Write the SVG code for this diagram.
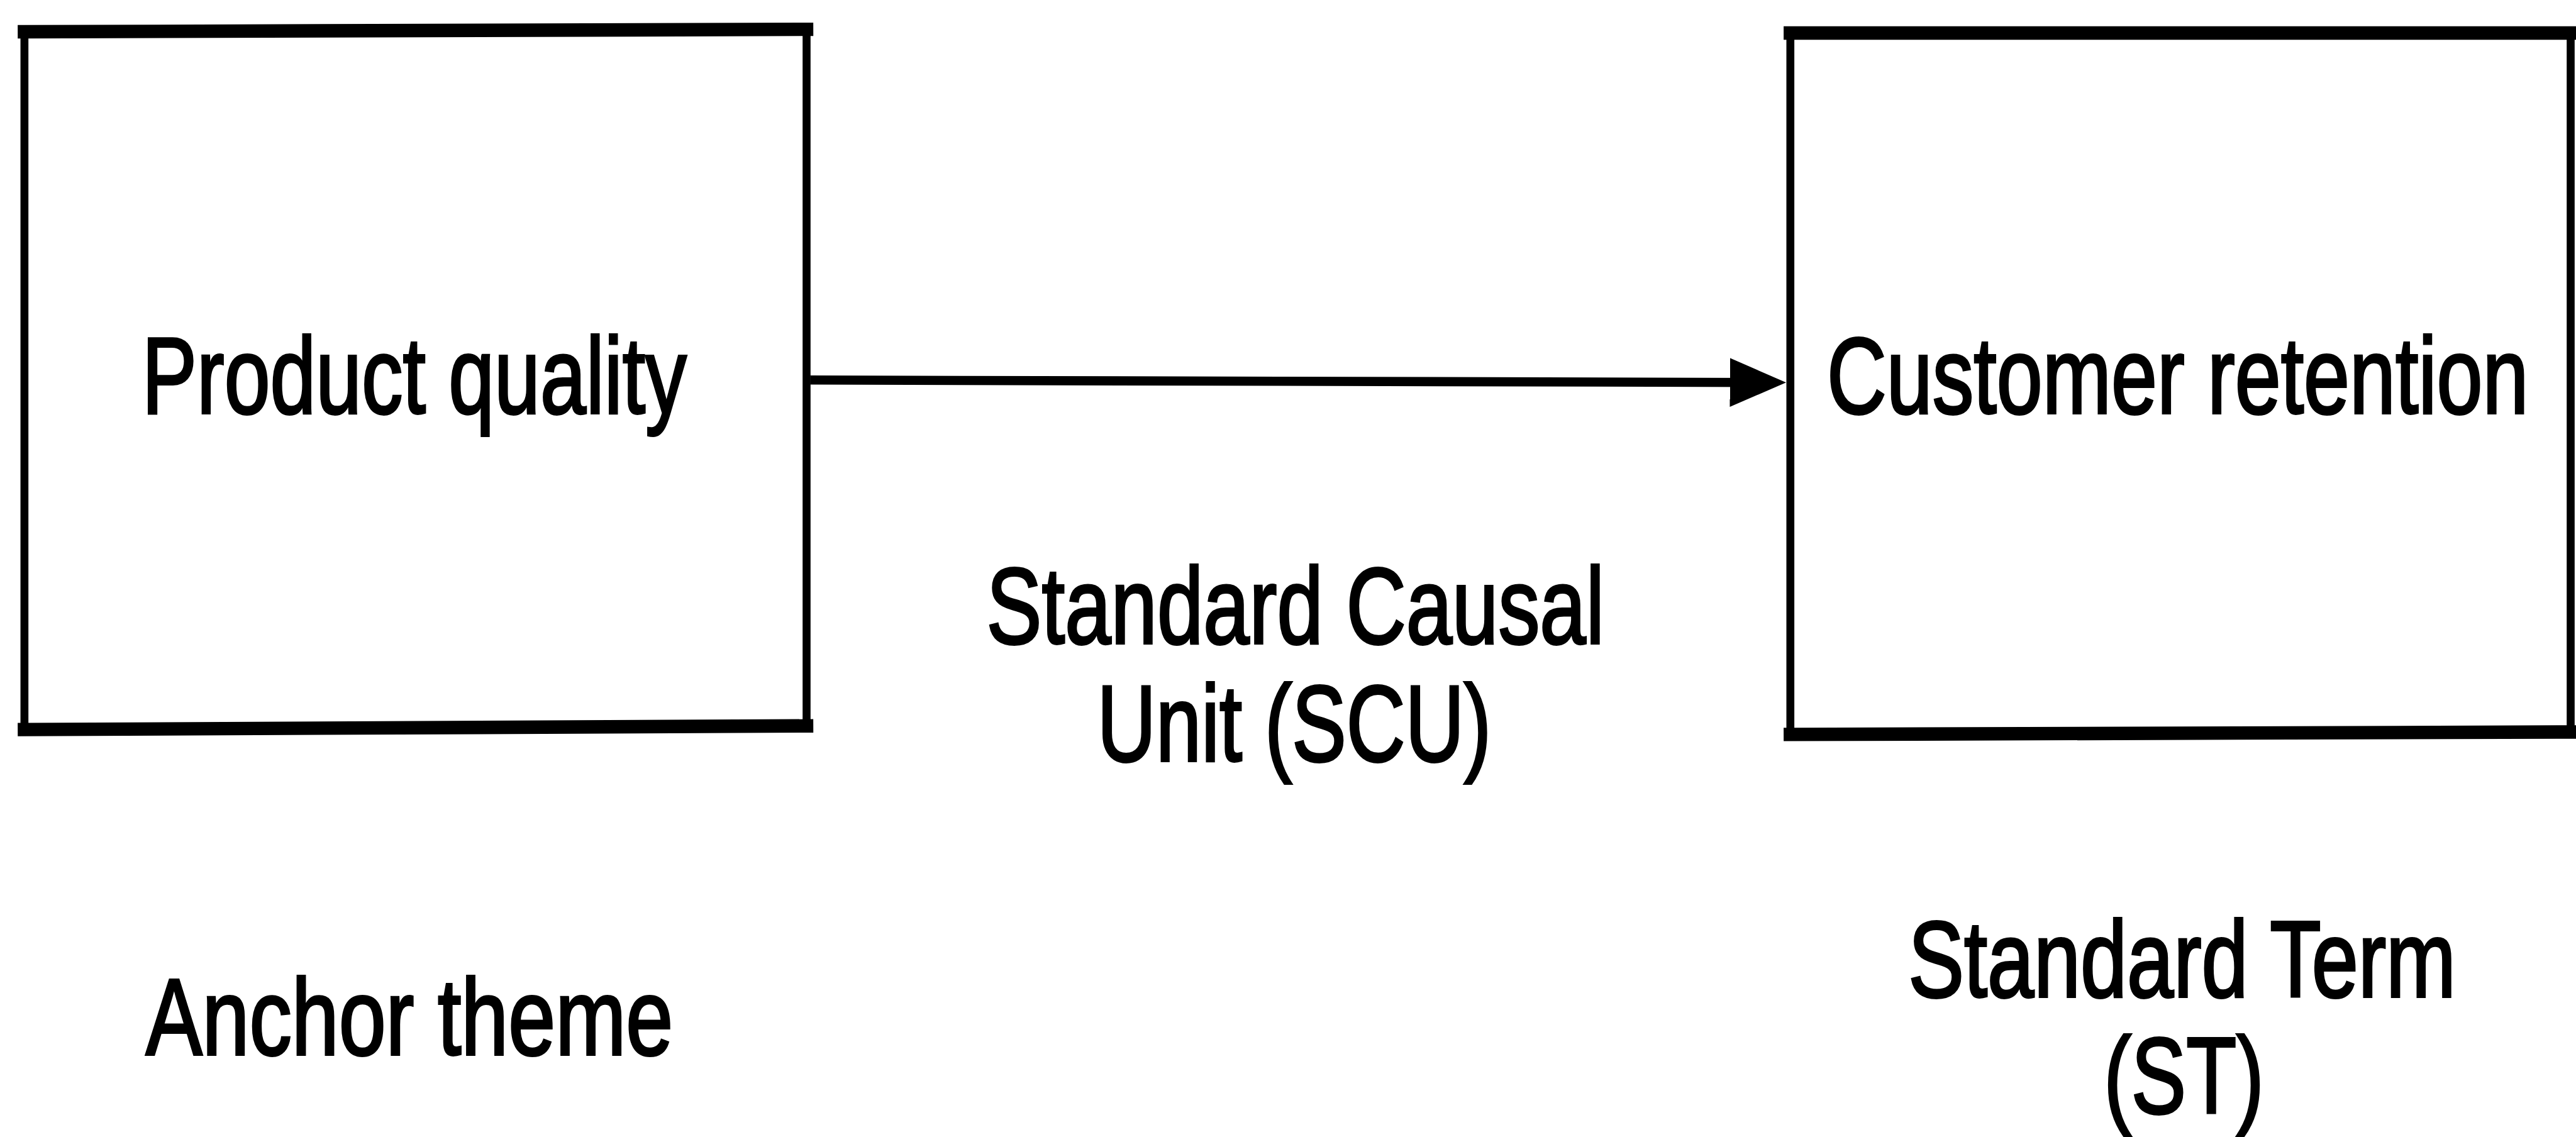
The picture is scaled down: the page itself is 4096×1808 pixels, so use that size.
<svg xmlns="http://www.w3.org/2000/svg" width="4096" height="1808" viewBox="0 0 4096 1808">
<style>
.box{fill:none;stroke:#000;stroke-width:13}
.edge{stroke:#000;stroke-width:22;stroke-linecap:square}
.conn{stroke:#000;stroke-width:15;fill:none}
.lbl{font-family:"Liberation Sans",Arial,sans-serif;font-size:178px;fill:#000;stroke:#000;stroke-width:4;text-anchor:middle}
</style>
<defs>
<marker id="arrow" markerUnits="userSpaceOnUse" markerWidth="92" markerHeight="80" viewBox="0 0 92 80" refX="49" refY="40" orient="auto">
<path d="M0,0 L92,40 L0,80 Z" fill="#000"/>
</marker>
</defs>
<rect width="4096" height="1808" fill="#fff"/>
<g transform="scale(0.9716)">
<g id="node-product-quality">
<rect class="box" x="40" y="52" width="1280" height="1140"/>
<line class="edge" x1="40" y1="52" x2="1320" y2="48"/>
<line class="edge" x1="40" y1="1194" x2="1320" y2="1188"/>
<text class="lbl" transform="translate(678,676) scale(0.757,1)">Product quality</text>
</g>
<g id="node-customer-retention">
<rect class="box" x="2930" y="54" width="1277" height="1146"/>
<line class="edge" x1="2930" y1="54" x2="4207" y2="54"/>
<line class="edge" x1="2930" y1="1202" x2="4207" y2="1198"/>
<text class="lbl" transform="translate(3564,676) scale(0.7585,1)">Customer retention</text>
</g>
<g id="connectors">
<line class="conn" x1="1326" y1="622" x2="2880" y2="626" marker-end="url(#arrow)"/>
</g>
<g id="label-scu">
<text class="lbl" transform="translate(2120,1053) scale(0.7626,1)">Standard Causal</text>
<text class="lbl" transform="translate(2118,1245) scale(0.75,1)">Unit (SCU)</text>
</g>
<g id="label-anchor">
<text class="lbl" transform="translate(670,1726) scale(0.779,1)">Anchor theme</text>
</g>
<g id="label-st">
<text class="lbl" transform="translate(3571,1631) scale(0.77,1)">Standard Term</text>
<text class="lbl" transform="translate(3574,1822) scale(0.757,1)">(ST)</text>
</g>
</g>
</svg>
